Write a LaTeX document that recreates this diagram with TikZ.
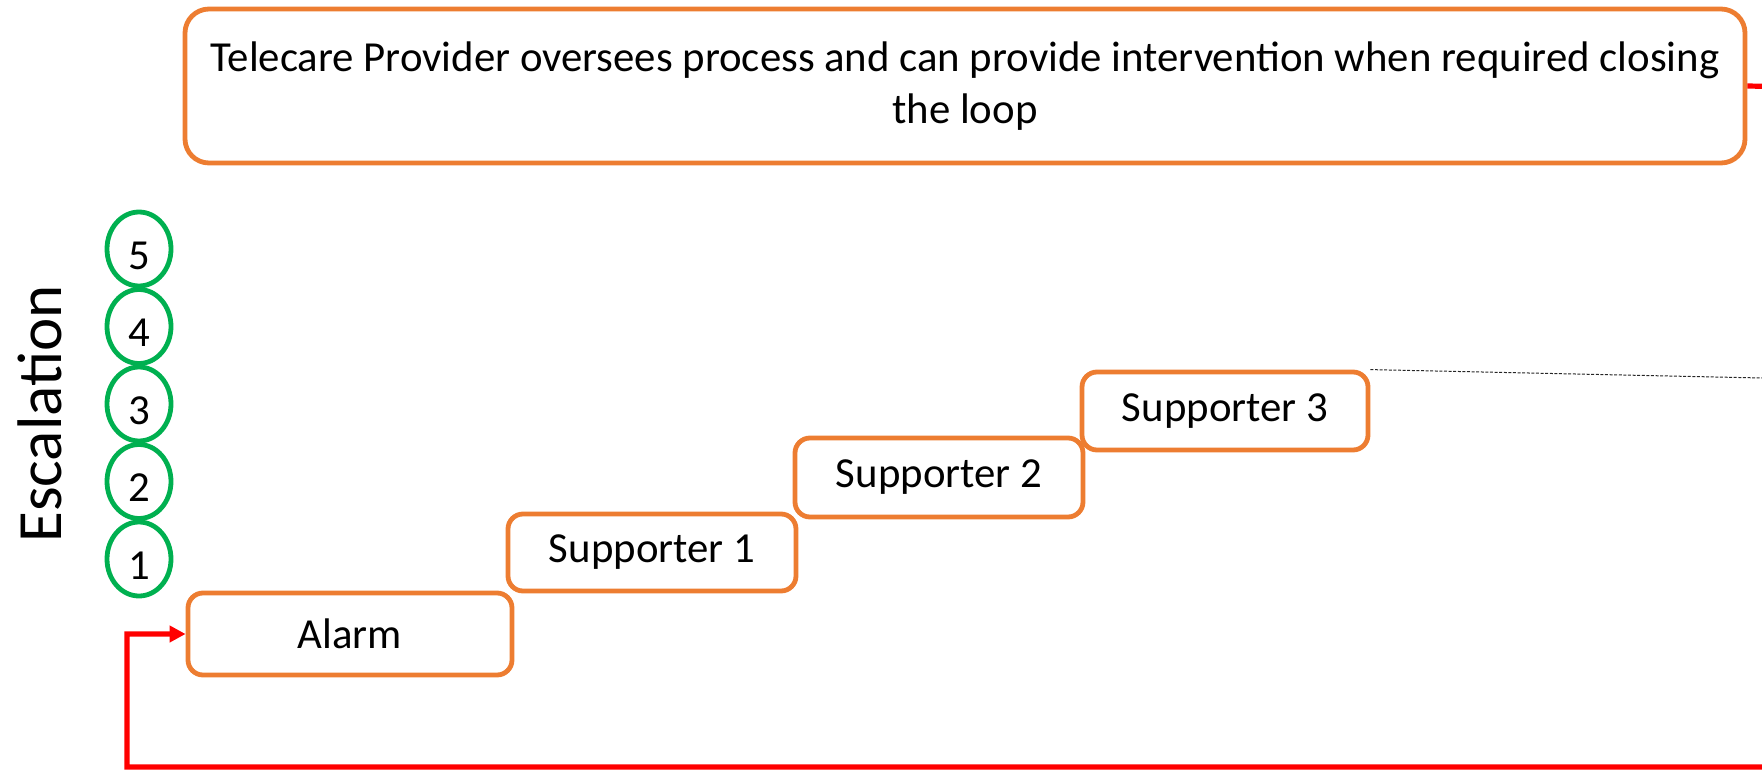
\documentclass[tikz,border=0pt]{standalone}
\usepackage{fontspec}
\setmainfont{Carlito}
\usetikzlibrary{shapes.geometric,arrows.meta}
\definecolor{boxorange}{HTML}{ED7D31}
\definecolor{stepgreen}{HTML}{00B050}
\definecolor{loopred}{HTML}{FF0000}
\tikzset{
  obox/.style={draw=boxorange, line width=2.4pt, rounded corners=7.5pt, fill=white,
    font=\fontsize{21.4}{25}\selectfont, align=center, inner sep=0pt},
  gcirc/.style={draw=stepgreen, line width=2.4pt, ellipse, minimum width=32pt,
    minimum height=37pt, inner sep=0pt, font=\fontsize{21.4}{25}\selectfont,
    text height=20pt, text depth=0pt},
  redloop/.style={draw=loopred, line width=2.6pt},
  thindot/.style={draw=black!85, line width=0.5pt, dash pattern=on 1.5pt off 0.8pt}
}
\begin{document}
\begin{tikzpicture}[x=0.5pt,y=-0.5pt]
\useasboundingbox (0,0) rectangle (1762,771);
\clip (0,0) rectangle (1762,771);
% top box
\node[obox, rounded corners=12pt, minimum width=780pt, minimum height=77pt] (top) at (965,86)
  {Telecare Provider oversees process and can provide intervention when required closing\\[1pt]the loop};
% steps
\node[obox, minimum width=162pt, minimum height=41pt] (alarm) at (350,634) {Alarm};
\node[obox, minimum width=144pt, minimum height=38.5pt] (s1) at (652,552.5) {Supporter 1};
\node[obox, minimum width=144pt, minimum height=39.5pt] (s2) at (939,477.5) {Supporter 2};
\node[obox, minimum width=143pt, minimum height=39pt] (s3) at (1225,411) {Supporter 3};
% escalation circles
\node[gcirc] (c5) at (139,249) {5};
\node[gcirc] (c4) at (139,326.5) {4};
\node[gcirc] (c3) at (139,404) {3};
\node[gcirc] (c2) at (139,481.5) {2};
\node[gcirc] (c1) at (139,559) {1};
% escalation label
\node[rotate=90, font=\fontsize{31.5}{36}\selectfont, inner sep=0pt] (esc) at (40,414) {Escalation};
% dotted line
\coordinate (dotend) at (1762,378);
\draw[thindot] (s3.north east) -- (dotend);
% red loop
\coordinate (rA) at (1800,87);
\coordinate (rB) at (1800,767);
\coordinate (rC) at (127,767);
\draw[redloop, -{Triangle[length=8pt,width=8pt]}] (top.east) -- (rA) -- (rB) -- (rC) |- (alarm.west);
\end{tikzpicture}
\end{document}
